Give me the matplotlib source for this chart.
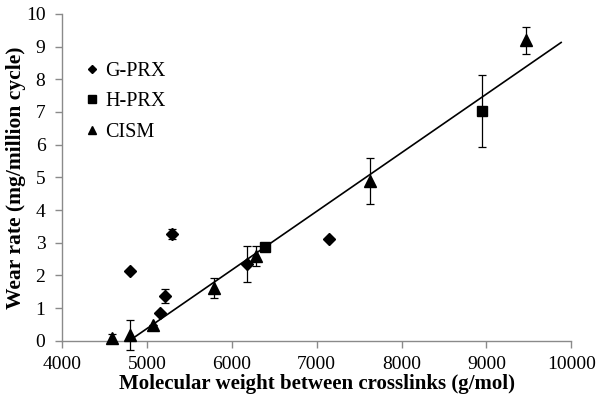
import numpy as np
import matplotlib
matplotlib.use("Agg")
import matplotlib.pyplot as plt

plt.rcParams['font.family'] = ['Liberation Serif', 'DejaVu Serif']

# G-PRX (diamonds)
g_x = [4800, 5150, 5210, 5300, 6180, 7140]
g_y = [2.13, 0.84, 1.36, 3.26, 2.34, 3.11]
g_err = [0.0, 0.0, 0.22, 0.15, 0.55, 0.0]

# H-PRX (squares)
h_x = [6390, 8950]
h_y = [2.87, 7.02]
h_err = [0.0, 1.1]

# CISM (triangles)
c_x = [4590, 4800, 5070, 5790, 6290, 7630, 9470]
c_y = [0.09, 0.18, 0.49, 1.61, 2.59, 4.89, 9.19]
c_err = [0.12, 0.45, 0.0, 0.3, 0.3, 0.7, 0.41]

# linear trend line
trend_x = [4800, 9880]
trend_slope = 0.001794
trend_icpt = 0.07 - 0.001794 * 4831

fig = plt.figure(figsize=(5.97, 3.99), dpi=100)
ax = fig.add_axes([0.104, 0.146, 0.853, 0.819])

tx = np.array(trend_x)
ax.plot(tx, trend_slope * tx + trend_icpt, color='black', lw=1.2, zorder=2)

ekw = dict(ecolor='black', elinewidth=0.9, capsize=3, capthick=0.9, ls='none', zorder=3)
e1 = ax.errorbar(g_x, g_y, yerr=g_err, fmt='D', color='black', ms=6.5, label='G-PRX', **ekw)
e2 = ax.errorbar(h_x, h_y, yerr=h_err, fmt='s', color='black', ms=7.5, label='H-PRX', **ekw)
e3 = ax.errorbar(c_x, c_y, yerr=c_err, fmt='^', color='black', ms=8, label='CISM', **ekw)
for e in (e1, e2, e3):
    for part in e.lines[1] + e.lines[2]:
        part.set_clip_on(False)
    e.lines[0].set_clip_on(False)

ax.set_xlim(4000, 10000)
ax.set_ylim(0, 10)
ax.set_xticks(range(4000, 10001, 1000))
ax.set_yticks(range(0, 11))

for s in ('top', 'right'):
    ax.spines[s].set_visible(False)
for s in ('left', 'bottom'):
    ax.spines[s].set_color('#8a8a8a')
    ax.spines[s].set_linewidth(1.0)
ax.tick_params(direction='out', length=5, width=1.0, color='#8a8a8a', labelsize=14)
ax.tick_params(axis='x', pad=6)
ax.tick_params(axis='y', pad=7)

ax.set_xlabel('Molecular weight between crosslinks (g/mol)', fontsize=15, fontweight='bold', labelpad=1)
ax.set_ylabel('Wear rate (mg/million cycle)', fontsize=15.5, fontweight='bold', labelpad=0)

leg = ax.legend(handles=[e1[0], e2[0], e3[0]], labels=['G-PRX', 'H-PRX', 'CISM'],
                loc='upper left', bbox_to_anchor=(0.033, 0.877), frameon=False,
                fontsize=14.5, handlelength=0.5, handletextpad=0.4, labelspacing=0.55,
                markerscale=0.7, borderaxespad=0)

fig.savefig('out.png', dpi=100)
